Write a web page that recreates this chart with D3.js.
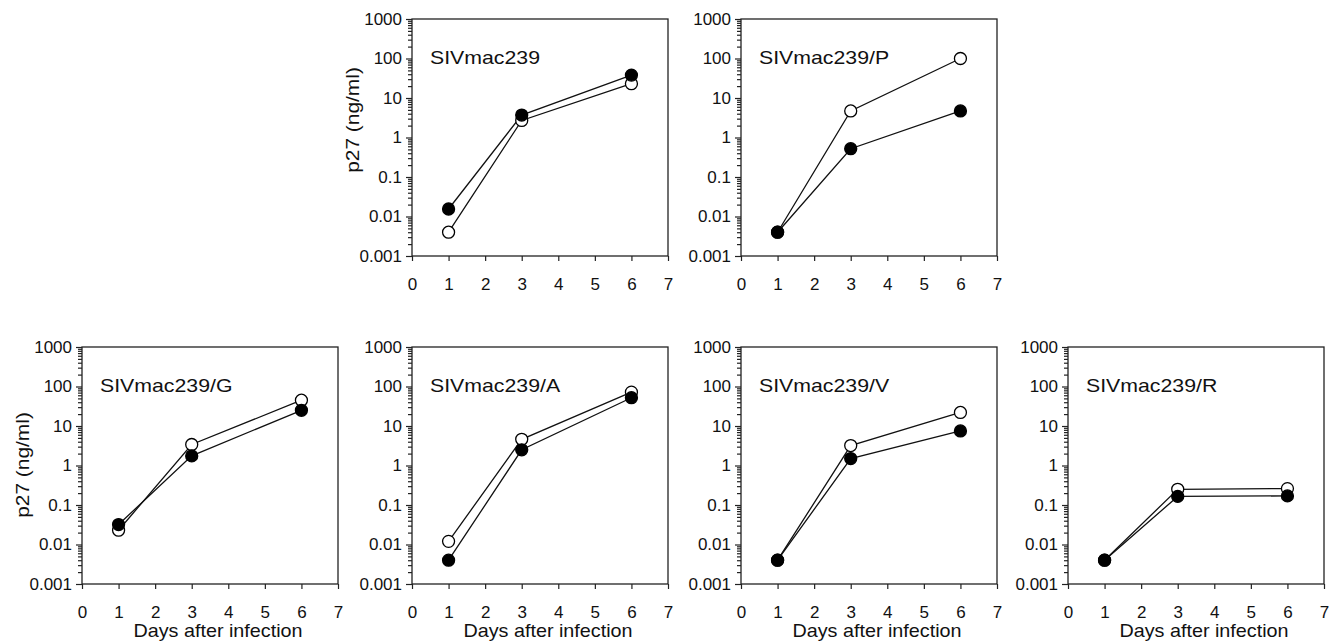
<!DOCTYPE html>
<html>
<head>
<meta charset="utf-8">
<script src="https://cdn.jsdelivr.net/npm/d3@7"></script>
<style>
  body { margin: 0; background: #fff; }
  svg { display: block; font-family: "Liberation Sans", Arial, sans-serif; }
</style>
</head>
<body>
<script>
// values (ng/ml, log axis)
const days = [1, 3, 6];
const panelNames = ["SIVmac239", "SIVmac239/P", "SIVmac239/G", "SIVmac239/A", "SIVmac239/V", "SIVmac239/R"];
const openValues = [
  [0.004, 2.7, 23],
  [0.004, 4.7, 100],
  [0.023, 3.4, 45],
  [0.012, 4.6, 72],
  [0.004, 3.2, 22],
  [0.004, 0.25, 0.26],
];
const filledValues = [
  [0.0155, 3.7, 38],
  [0.004, 0.52, 4.7],
  [0.032, 1.75, 25],
  [0.004, 2.5, 52],
  [0.004, 1.5, 7.5],
  [0.004, 0.165, 0.17],
];
const yTicks = [0.001, 0.01, 0.1, 1, 10, 100, 1000];
const yTickLabels = ["0.001", "0.01", "0.1", "1", "10", "100", "1000"];
const xTicks = [0, 1, 2, 3, 4, 5, 6, 7];
const yTitle = "p27 (ng/ml)";
const xTitle = "Days after infection";

// layout: where each panel sits
const layout = [
  {left: 412, top: 19, yTitle: true, titleCy: 120, xTitle: false},
  {left: 741, top: 19, yTitle: false, xTitle: false},
  {left: 82, top: 347, yTitle: true, titleCy: 465, xTitle: true},
  {left: 412, top: 347, yTitle: false, xTitle: true},
  {left: 741, top: 347, yTitle: false, xTitle: true},
  {left: 1068, top: 347, yTitle: false, xTitle: true},
];
const W = 256, H = 237;

const minorTicks = [];
for (let e = -3; e < 3; e++) {
  for (let k = 2; k <= 9; k++) minorTicks.push(k * Math.pow(10, e));
}

const svg = d3.select("body").append("svg")
  .attr("width", 1337)
  .attr("height", 643);

const x = d3.scaleLinear().domain([0, 7]).range([0, W]);
const y = d3.scaleLog().domain([0.001, 1000]).range([H, 0]);

// the scanned figure's type is a little wider than Arial
const widen = (sel, k) => {
  sel.each(function () {
    const len = this.getComputedTextLength();
    d3.select(this).attr("textLength", len * k).attr("lengthAdjust", "spacingAndGlyphs");
  });
};

panelNames.forEach((name, i) => {
  const p = layout[i];
  const g = svg.append("g").attr("transform", `translate(${p.left},${p.top})`);

  // minor y ticks
  g.append("g")
    .call(d3.axisLeft(y).tickValues(minorTicks).tickSize(4).tickFormat(""))
    .call(a => a.select(".domain").remove());

  // major y ticks + labels
  g.append("g")
    .call(d3.axisLeft(y).tickValues(yTicks).tickSize(6).tickPadding(4)
      .tickFormat((d, j) => yTickLabels[j]))
    .call(a => a.select(".domain").remove())
    .call(a => a.selectAll("text").attr("font-size", 17).attr("fill", "#111")
      .attr("font-family", "Liberation Sans, Arial, sans-serif"));

  // x ticks
  g.append("g")
    .attr("transform", `translate(0,${H})`)
    .call(d3.axisBottom(x).tickValues(xTicks).tickFormat(d3.format("d"))
      .tickSize(5).tickPadding(17))
    .call(a => a.select(".domain").remove())
    .call(a => a.selectAll("text").attr("font-size", 17).attr("fill", "#111")
      .attr("font-family", "Liberation Sans, Arial, sans-serif"));

  g.selectAll(".tick line").attr("stroke", "#222").attr("stroke-width", 1.2);

  // frame
  g.append("rect")
    .attr("width", W).attr("height", H)
    .attr("fill", "none").attr("stroke", "#222").attr("stroke-width", 1.3);

  const line = d3.line().x((d, j) => x(days[j])).y(d => y(d));

  const series = [
    {vals: openValues[i], fill: "#fff"},
    {vals: filledValues[i], fill: "#000"},
  ];

  series.forEach(s => {
    g.append("path")
      .attr("d", line(s.vals))
      .attr("fill", "none").attr("stroke", "#111").attr("stroke-width", 1.3);
  });
  series.forEach(s => {
    g.selectAll(null)
      .data(s.vals)
      .enter()
      .append("circle")
      .attr("cx", (d, j) => x(days[j]))
      .attr("cy", d => y(d))
      .attr("r", 6)
      .attr("fill", s.fill)
      .attr("stroke", "#000")
      .attr("stroke-width", 1.3);
  });

  // panel label
  g.append("text")
    .attr("x", 18).attr("y", 45)
    .attr("font-size", 19).attr("fill", "#111")
    .text(name)
    .call(widen, 1.12);

  if (p.yTitle) {
    svg.append("text")
      .attr("transform", `translate(${p.left - 53},${p.titleCy}) rotate(-90)`)
      .attr("text-anchor", "middle")
      .attr("font-size", 19).attr("fill", "#111")
      .text(yTitle)
      .call(widen, 1.1);
  }
  if (p.xTitle) {
    g.append("text")
      .attr("x", W / 2 + 8).attr("y", H + 53)
      .attr("text-anchor", "middle")
      .attr("font-size", 19).attr("fill", "#111")
      .text(xTitle)
      .call(widen, 1.04);
  }
});
</script>
</body>
</html>
